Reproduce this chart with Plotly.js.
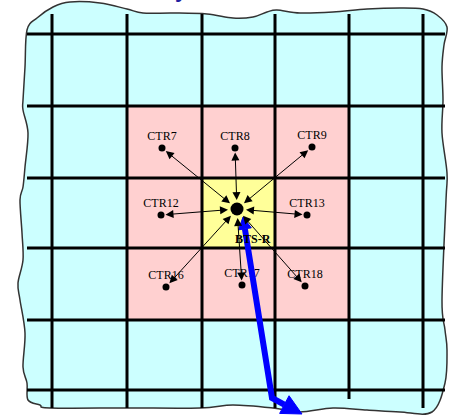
<!DOCTYPE html>
<html>
<head>
<meta charset="utf-8">
<script src="https://cdn.plot.ly/plotly-3.0.1.min.js"></script>
<style>html,body{margin:0;padding:0;background:#fff;}#chart{width:450px;height:415px;}</style>
</head>
<body>
<div id="chart"></div>
<script>
// ---- data ----
const nodeNames = ["CTR7","CTR8","CTR9","CTR12","CTR13","CTR16","CTR17","CTR18"];
const nodeX = [162, 235, 312, 161, 307, 166, 242, 305];
const nodeY = [148, 148, 147, 215, 215, 287, 285, 286];
const btsName = "BTS-R";
const btsX = [237];
const btsY = [209];
const gridX = [52, 127, 202, 275, 349, 423];
const gridY = [34, 106, 178, 248, 320, 390];
const gridXEnd = [408, 408, 408, 408, 399, 408];
const routeX = [243, 272, 302];
const routeY = [217, 398, 414];
const outlineX = [27,37,53,70,100,127,143,173,207,233,253,267,277,300,333,367,400,423,437,447,444,442,443,442,447,446,442,445,447,445,432,400,367,333,300,273,233,200,127,50,40,28,27,23,25,20,18,23,22,20,23,25,28,23,23,25];
const outlineY = [30,18,7,2,3,9,13,13,14,18,17,12,10,13,12,9,8,9,15,27,45,67,100,133,173,200,300,330,350,383,412,412,410,408,412,408,405,408,408,408,405,400,383,367,333,300,283,260,233,200,187,167,133,110,100,67];

// ---- build wavy outline path (Catmull-Rom -> Bezier) ----
function smoothPath(xs, ys){
  const n = xs.length;
  let d = `M${xs[0]},${ys[0]}`;
  for(let i=0;i<n;i++){
    const p0=[xs[(i-1+n)%n],ys[(i-1+n)%n]], p1=[xs[i],ys[i]], p2=[xs[(i+1)%n],ys[(i+1)%n]], p3=[xs[(i+2)%n],ys[(i+2)%n]];
    const c1=[p1[0]+(p2[0]-p0[0])/6, p1[1]+(p2[1]-p0[1])/6];
    const c2=[p2[0]-(p3[0]-p1[0])/6, p2[1]-(p3[1]-p1[1])/6];
    d += ` C${c1[0]},${c1[1]} ${c2[0]},${c2[1]} ${p2[0]},${p2[1]}`;
  }
  return d + " Z";
}

const shapes = [];
shapes.push({type:"path", xref:"x", yref:"y", path:smoothPath(outlineX,outlineY), fillcolor:"#CCFFFF", line:{color:"#333333", width:1.5}, layer:"below"});
shapes.push({type:"rect", xref:"x", yref:"y", x0:gridX[1], x1:gridX[4], y0:gridY[1], y1:gridY[4], fillcolor:"#FFD0D0", line:{width:0}, layer:"below"});
shapes.push({type:"rect", xref:"x", yref:"y", x0:gridX[2], x1:gridX[3], y0:gridY[2], y1:gridY[3], fillcolor:"#FFFF99", line:{width:0}, layer:"below"});
gridX.forEach((gx,i)=>shapes.push({type:"line", xref:"x", yref:"y", x0:gx, x1:gx, y0:14, y1:gridXEnd[i], line:{color:"#000", width:3}, layer:"below"}));
gridY.forEach(gy=>shapes.push({type:"line", xref:"x", yref:"y", x0:27, x1:445, y0:gy, y1:gy, line:{color:"#000", width:3}, layer:"below"}));

const annotations = [];
nodeX.forEach((nx,i)=>annotations.push({
  x:btsX[0], y:btsY[0], ax:nx, ay:nodeY[i], xref:"x", yref:"y", axref:"x", ayref:"y",
  text:"", showarrow:true, arrowside:"end+start", arrowhead:2, startarrowhead:2,
  arrowsize:1.6, startarrowsize:1.6, arrowwidth:1, arrowcolor:"#000", standoff:9, startstandoff:3
}));
annotations.push({x:253, y:239, xref:"x", yref:"y", text:"<b>"+btsName+"</b>", showarrow:false,
  font:{family:"Liberation Serif", size:12, color:"#000"}});
annotations.push({x:181/450, y:1+10/415, xref:"paper", yref:"paper", yanchor:"middle", text:"<b>y</b>", showarrow:false,
  font:{family:"Liberation Sans", size:22, color:"#2020A0"}});

// arrowhead triangle from a segment (tip at t, coming from f); axes are 1 unit = 1 px
function head(fx, fy, tx, ty, L, W){
  const dx = tx-fx, dy = ty-fy, len = Math.hypot(dx,dy), ux = dx/len, uy = dy/len;
  const bx = tx-ux*L, by = ty-uy*L, nx = -uy, ny = ux;
  return {x:[tx, bx+nx*W/2, bx-nx*W/2, tx], y:[ty, by+ny*W/2, by-ny*W/2, ty], base:[bx,by]};
}
const n = routeX.length;
const hEnd = head(routeX[n-2], routeY[n-2], routeX[n-1], routeY[n-1], 20, 20);
const hStart = head(routeX[1], routeY[1], routeX[0], routeY[0], 12, 13);
const lineX = [hStart.base[0]].concat(routeX.slice(1, n-1), [hEnd.base[0]]);
const lineY = [hStart.base[1]].concat(routeY.slice(1, n-1), [hEnd.base[1]]);

const traces = [
  {type:"scatter", mode:"markers+text", x:nodeX, y:nodeY, text:nodeNames, textposition:"top center",
   textfont:{family:"Liberation Serif", size:12, color:"#000"}, marker:{color:"#000", size:7}, hoverinfo:"skip", cliponaxis:false},
  {type:"scatter", mode:"markers", x:btsX, y:btsY, marker:{color:"#000", size:13}, hoverinfo:"skip"},
  {type:"scatter", mode:"lines", x:lineX, y:lineY, line:{color:"#0000FF", width:6}, hoverinfo:"skip", cliponaxis:false},
  {type:"scatter", mode:"lines", x:hEnd.x, y:hEnd.y, fill:"toself", fillcolor:"#0000FF", line:{color:"#0000FF", width:1}, hoverinfo:"skip", cliponaxis:false},
  {type:"scatter", mode:"lines", x:hStart.x, y:hStart.y, fill:"toself", fillcolor:"#0000FF", line:{color:"#0000FF", width:1}, hoverinfo:"skip", cliponaxis:false}
];

const layout = {
  width:450, height:415, margin:{l:0,r:0,t:0,b:0}, paper_bgcolor:"#fff", plot_bgcolor:"#fff",
  showlegend:false,
  xaxis:{range:[0,450], visible:false, fixedrange:true},
  yaxis:{range:[415,0], visible:false, fixedrange:true},
  shapes:shapes, annotations:annotations
};
Plotly.newPlot("chart", traces, layout, {displayModeBar:false, staticPlot:true});
</script>
</body>
</html>
